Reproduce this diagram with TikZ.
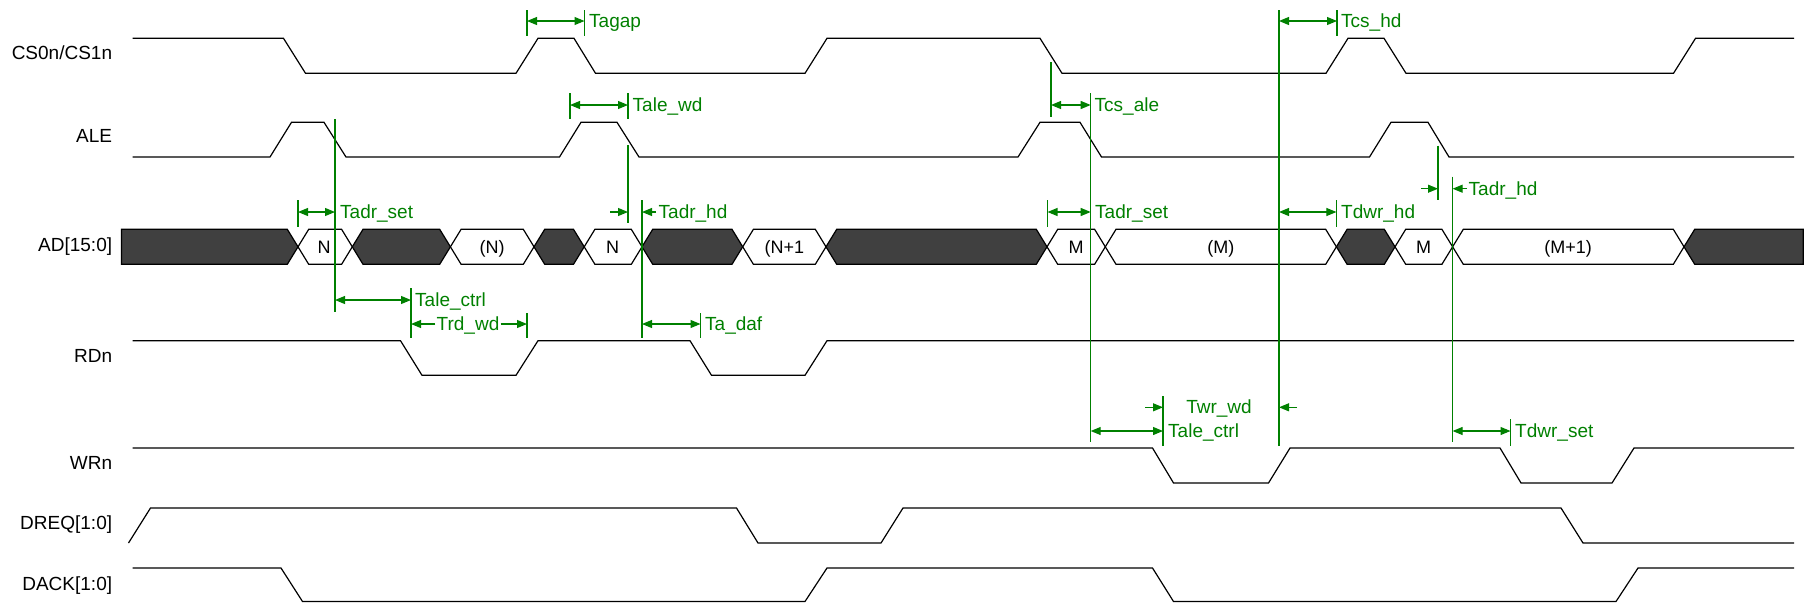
\documentclass[tikz,border=0pt]{standalone}
\usepackage{fontspec}
\setmainfont{Liberation Sans}
\usetikzlibrary{arrows.meta}
\definecolor{dimgreen}{RGB}{0,128,0}
\definecolor{busgray}{RGB}{64,64,64}
\begin{document}
\begin{tikzpicture}[x=1pt,y=-1pt,
  sig/.style={line width=1.2pt, line join=miter},
  bus/.style={draw=black, line width=1.2pt, line join=miter},
  gline/.style={draw=dimgreen, line width=1.3pt},
  garr/.style={draw=dimgreen, line width=1.1pt, {Triangle[length=10pt,width=8pt]}-{Triangle[length=10pt,width=8pt]}},
  garrr/.style={draw=dimgreen, line width=1.1pt, -{Triangle[length=10pt,width=8pt]}},
  glabel/.style={text=dimgreen, font=\fontsize{19}{21}\selectfont, anchor=base west, inner sep=0pt},
  siglabel/.style={font=\fontsize{19}{21}\selectfont, anchor=base east, inner sep=0pt},
  busval/.style={font=\fontsize{18}{20}\selectfont, anchor=base, inner sep=0pt},
]
\useasboundingbox (0,0) rectangle (1804,603);

% ---------------- signal names
\node[siglabel] (lcs)   at (112.3,59.3)  {CS0n/CS1n};
\node[siglabel] (lale)  at (112.3,142.7) {ALE};
\node[siglabel] (lad)   at (112.3,251.5) {AD[15:0]};
\node[siglabel] (lrd)   at (112.3,362.3) {RDn};
\node[siglabel] (lwr)   at (112.3,469.3) {WRn};
\node[siglabel] (ldreq) at (112.3,529.5) {DREQ[1:0]};
\node[siglabel] (ldack) at (112.3,590)   {DACK[1:0]};

% ---------------- waveforms
\draw[sig] (132.5,38.3) -- (283.5,38.3) -- (305.5,73.3) -- (516,73.3) -- (538,38.3) -- (574,38.3) -- (595.5,73.3) -- (805,73.3) -- (827,38.3) -- (1040,38.3) -- (1062,73.3) -- (1326,73.3) -- (1348,38.3) -- (1384,38.3) -- (1406,73.3) -- (1673.5,73.3) -- (1695.5,38.3) -- (1794,38.3);
\draw[sig] (132.5,157) -- (270,157) -- (291.5,122.3) -- (324,122.3) -- (346,157) -- (559.5,157) -- (581,122.3) -- (617,122.3) -- (639,157) -- (1018,157) -- (1040,122.3) -- (1080,122.3) -- (1101.5,157) -- (1369.5,157) -- (1391,122.3) -- (1428,122.3) -- (1449,157) -- (1794,157);
\draw[sig] (132.5,340.7) -- (400.5,340.7) -- (422,375.3) -- (516,375.3) -- (538,340.7) -- (690,340.7) -- (711.5,375.3) -- (805,375.3) -- (827,340.7) -- (1794,340.7);
\draw[sig] (132.5,448) -- (1152.5,448) -- (1173.5,483) -- (1268.5,483) -- (1290,448) -- (1500,448) -- (1521,483) -- (1612,483) -- (1634,448) -- (1794,448);
\draw[sig] (128.5,543) -- (150.5,508) -- (736.5,508) -- (758,543) -- (881,543) -- (903,508) -- (1561,508) -- (1583,543) -- (1794,543);
\draw[sig] (132.5,568) -- (281,568) -- (302.5,601.5) -- (805,601.5) -- (827,568) -- (1152.5,568) -- (1173.5,601.5) -- (1616,601.5) -- (1638,568) -- (1794,568);

% ---------------- bus AD[15:0]
\draw[bus, fill=busgray] (121.4,229.3) -- (287.3,229.3) -- (298,246.8) -- (287.3,264.3) -- (121.4,264.3) -- cycle;
\foreach \a/\b/\f in {298/352.3/white, 352.3/450.4/busgray, 450.4/534/white, 534/584.2/busgray,
  584.2/642/white, 642/742.7/busgray, 742.7/826/white, 826/1047/busgray, 1047/1105.3/white,
  1105.3/1336.4/white, 1336.4/1395/busgray, 1395/1452.6/white, 1452.6/1684/white}
  \draw[bus, fill=\f] (\a,246.8) -- ({\a+10.7},229.3) -- ({\b-10.7},229.3) -- (\b,246.8) -- ({\b-10.7},264.3) -- ({\a+10.7},264.3) -- cycle;
\draw[bus, fill=busgray] (1684,246.8) -- (1694.7,229.3) -- (1803.2,229.3) -- (1803.2,264.3) -- (1694.7,264.3) -- cycle;

\node[busval] (v1) at (324,253.3) {N};
\node[busval] (v2) at (492,253.3) {(N)};
\node[busval] (v3) at (612.5,253.3) {N};
\node[busval] (v4) at (784.3,253.3) {(N+1};
\node[busval] (v5) at (1076,253.3) {M};
\node[busval] (v6) at (1220.8,253.3) {(M)};
\node[busval] (v7) at (1423.5,253.3) {M};
\node[busval] (v8) at (1568,253.3) {(M+1)};

% ---------------- timing reference lines and ticks
\draw[gline] (527,10) -- (527,36);
\draw[gline] (584.5,10) -- (584.5,36);
\draw[gline] (570,93) -- (570,119);
\draw[gline] (628,93) -- (628,119);
\draw[gline] (335,119) -- (335,312);
\draw[gline] (298,200) -- (298,227);
\draw[gline] (411,288) -- (411,338);
\draw[gline] (527,313) -- (527,338);
\draw[gline] (628,145) -- (628,223);
\draw[gline] (642,200) -- (642,338);
\draw[gline] (700.5,313) -- (700.5,338);
\draw[gline] (1051,62) -- (1051,117);
\draw[gline] (1090.7,93) -- (1090.7,441.7);
\draw[gline] (1047.5,200) -- (1047.5,227);
\draw[gline] (1163,396) -- (1163,446);
\draw[gline] (1279,10) -- (1279,446);
\draw[gline] (1337,10) -- (1337,36);
\draw[gline] (1336.4,200) -- (1336.4,227);
\draw[gline] (1438,145.7) -- (1438,200);
\draw[gline] (1452.6,176.7) -- (1452.6,441.7);
\draw[gline] (1510.5,419.3) -- (1510.5,445.7);

% ---------------- named arrow end points
\coordinate (tgL) at (527,21);      \coordinate (tgR) at (584.5,21);
\coordinate (twL) at (570,105);     \coordinate (twR) at (628,105);
\coordinate (ts1L) at (298,212);    \coordinate (ts1R) at (335,212);
\coordinate (tc1L) at (335,300);    \coordinate (tc1R) at (411,300);
\coordinate (trdL) at (411,324);    \coordinate (trdR) at (527,324);
\coordinate (th1L) at (628,212);    \coordinate (th1R) at (642,212);
\coordinate (th1a) at (610,212);    \coordinate (th1b) at (656,212);
\coordinate (tdL) at (642,324);     \coordinate (tdR) at (700.5,324);
\coordinate (tcaL) at (1051,105);   \coordinate (tcaR) at (1090.7,105);
\coordinate (ts2L) at (1047.5,212); \coordinate (ts2R) at (1090.7,212);
\coordinate (tc2L) at (1090.7,431); \coordinate (tc2R) at (1163,431);
\coordinate (twrL) at (1163,407.3); \coordinate (twrR) at (1279,407.3);
\coordinate (twra) at (1145,407.3); \coordinate (twrb) at (1297,407.3);
\coordinate (tchL) at (1279,21);    \coordinate (tchR) at (1337,21);
\coordinate (tdhL) at (1279,212);   \coordinate (tdhR) at (1336.4,212);
\coordinate (th2L) at (1438,188.7); \coordinate (th2R) at (1452.6,188.7);
\coordinate (th2a) at (1421,188.7); \coordinate (th2b) at (1467,188.7);
\coordinate (tdsL) at (1452.6,431); \coordinate (tdsR) at (1510.5,431);

% ---------------- dimension arrows
\draw[garr] (tgL) -- (tgR);
\draw[garr] (twL) -- (twR);
\draw[garr] (ts1L) -- (ts1R);
\draw[garr] (tc1L) -- (tc1R);
\draw[garrr] (th1a) -- (th1L);
\draw[garrr] (th1b) -- (th1R);
\draw[garr] (tdL) -- (tdR);
\draw[garr] (tcaL) -- (tcaR);
\draw[garr] (ts2L) -- (ts2R);
\draw[garr] (tc2L) -- (tc2R);
\draw[garrr] (twra) -- (twrL);
\draw[garrr] (twrb) -- (twrR);
\draw[garr] (tchL) -- (tchR);
\draw[garr] (tdhL) -- (tdhR);
\draw[garrr] (th2a) -- (th2L);
\draw[garrr] (th2b) -- (th2R);
\draw[garr] (tdsL) -- (tdsR);

% ---------------- dimension labels
\node[glabel] (nTagap) at (589,27) {Tagap};
\node[glabel] (nTalewd) at (632.5,111) {Tale\_wd};
\node[glabel] (nTadrset1) at (340,218) {Tadr\_set};
\node[glabel] (nTalectrl1) at (415,306) {Tale\_ctrl};
\node[glabel, anchor=base, inner sep=1pt] (nTrdwd) at (468,330) {Trd\_wd};
\draw[garrr] (nTrdwd.west |- trdL) -- (trdL);
\draw[garrr] (nTrdwd.east |- trdR) -- (trdR);
\node[glabel] (nTadrhd1) at (658.5,218) {Tadr\_hd};
\node[glabel] (nTadaf) at (705,330) {Ta\_daf};
\node[glabel] (nTcsale) at (1094.5,111) {Tcs\_ale};
\node[glabel] (nTadrset2) at (1095,218) {Tadr\_set};
\node[glabel] (nTalectrl2) at (1168,437) {Tale\_ctrl};
\node[glabel, anchor=base] (nTwrwd) at (1219,413) {Twr\_wd};
\node[glabel] (nTcshd) at (1341,27) {Tcs\_hd};
\node[glabel] (nTdwrhd) at (1341,218) {Tdwr\_hd};
\node[glabel] (nTadrhd2) at (1468.5,195) {Tadr\_hd};
\node[glabel] (nTdwrset) at (1515,437) {Tdwr\_set};
\end{tikzpicture}
\end{document}
